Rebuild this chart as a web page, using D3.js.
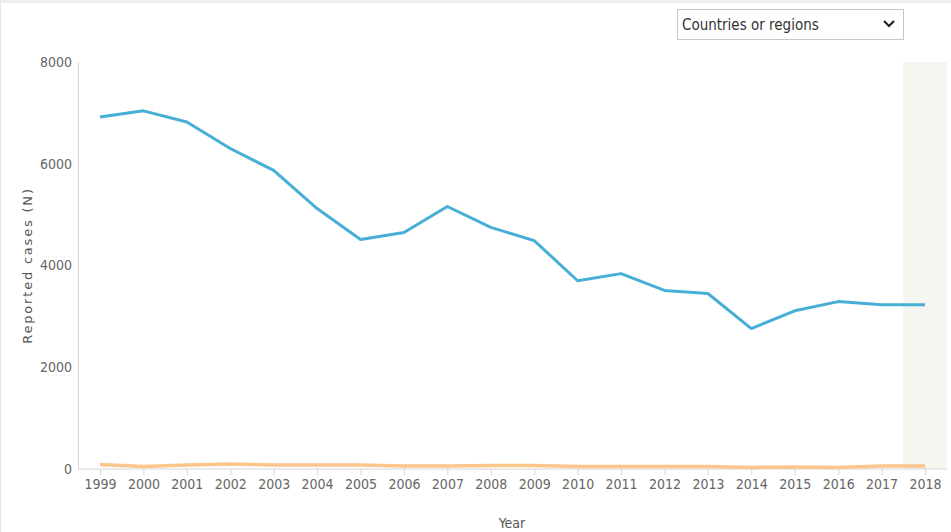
<!DOCTYPE html>
<html>
<head>
<meta charset="utf-8">
<script src="https://cdn.jsdelivr.net/npm/d3@7"></script>
<style>
  body { margin: 0; background: #fff; }
  svg { display: block; }
  .axis text { font-family: "DejaVu Sans Condensed", "DejaVu Sans", sans-serif; font-stretch: condensed; font-size: 14px; fill: #666; }
  .axis path, .axis line { stroke: #d6d6d6; }
</style>
</head>
<body>
<div id="chart"></div>
<script>
const years = [1999, 2000, 2001, 2002, 2003, 2004, 2005, 2006, 2007, 2008,
               2009, 2010, 2011, 2012, 2013, 2014, 2015, 2016, 2017, 2018];
const totalCases = [6920, 7040, 6820, 6300, 5870, 5120, 4510, 4650, 5160, 4750,
                    4490, 3700, 3840, 3510, 3450, 2760, 3110, 3290, 3230, 3230];
const otherCases = [90, 50, 80, 100, 80, 80, 80, 60, 60, 70,
                    70, 50, 50, 50, 50, 30, 40, 30, 60, 60];
const yTicks = [0, 2000, 4000, 6000, 8000];
const highlightYear = 2018;

const W = 951, H = 532;
const margin = { top: 62, right: 4, bottom: 63, left: 78 };

const svg = d3.select("#chart").append("svg")
  .attr("width", W)
  .attr("height", H);

// page frame
svg.append("rect").attr("x", 0).attr("y", 0).attr("width", W).attr("height", 3).attr("fill", "#eeeeee");
svg.append("rect").attr("x", 0).attr("y", 0).attr("width", 1).attr("height", H).attr("fill", "#e6e6e6");

const x = d3.scalePoint()
  .domain(years)
  .range([100, 925]);

const y = d3.scaleLinear()
  .domain([0, 8000])
  .range([H - margin.bottom, margin.top]);

// highlighted last year band
const step = x.step();
svg.append("rect")
  .attr("x", x(highlightYear) - step / 2)
  .attr("y", y(8000))
  .attr("width", W - 4 - (x(highlightYear) - step / 2))
  .attr("height", y(0) - y(8000))
  .attr("fill", "#f4f6ef");

svg.append("g")
  .attr("class", "axis")
  .attr("transform", `translate(0,${y(0)})`)
  .call(d3.axisBottom(x).tickSize(6).tickPadding(4).tickSizeOuter(0))
  .call(g => g.select(".domain").attr("d", `M${margin.left},0H${W - 4}`));

svg.append("g")
  .attr("class", "axis")
  .attr("transform", `translate(${margin.left},0)`)
  .call(d3.axisLeft(y).tickValues(yTicks).tickFormat(d3.format("d")).tickSize(0).tickPadding(6).tickSizeOuter(0));

const line = d3.line()
  .x((d, i) => x(years[i]))
  .y(d => y(d));

svg.append("path")
  .datum(otherCases)
  .attr("fill", "none")
  .attr("stroke", "#fbc58c")
  .attr("stroke-width", 3.5)
  .attr("d", line);

svg.append("path")
  .datum(totalCases)
  .attr("fill", "none")
  .attr("stroke", "#47afd6")
  .attr("stroke-width", 3)
  .attr("stroke-linejoin", "round")
  .attr("d", line);

// axis titles
svg.append("text")
  .attr("transform", `translate(32,${(y(0) + y(8000)) / 2}) rotate(-90)`)
  .attr("text-anchor", "middle")
  .style("font-family", "'DejaVu Sans', Verdana, sans-serif")
  .style("font-size", "13px")
  .style("letter-spacing", "1.8px")
  .style("fill", "#555")
  .text("Reported cases (N)");

svg.append("text")
  .attr("x", 512)
  .attr("y", 528)
  .attr("text-anchor", "middle")
  .style("font-family", "'DejaVu Sans Condensed', 'DejaVu Sans', sans-serif")
  .style("font-stretch", "condensed")
  .style("font-size", "14px")
  .style("fill", "#555")
  .text("Year");

// dropdown
const dd = svg.append("g").attr("transform", "translate(677,9)");
dd.append("rect")
  .attr("x", 0.5).attr("y", 0.5)
  .attr("width", 226).attr("height", 30)
  .attr("fill", "#fff")
  .attr("stroke", "#c8c8c8");
dd.append("text")
  .attr("x", 5).attr("y", 21)
  .style("font-family", "'DejaVu Sans Condensed', 'DejaVu Sans', sans-serif")
  .style("font-stretch", "condensed")
  .style("font-size", "15px")
  .style("fill", "#333")
  .text("Countries or regions");
dd.append("path")
  .attr("d", "M207,12L212,17L217,12")
  .attr("fill", "none")
  .attr("stroke", "#222")
  .attr("stroke-width", 2.2);
</script>
</body>
</html>
